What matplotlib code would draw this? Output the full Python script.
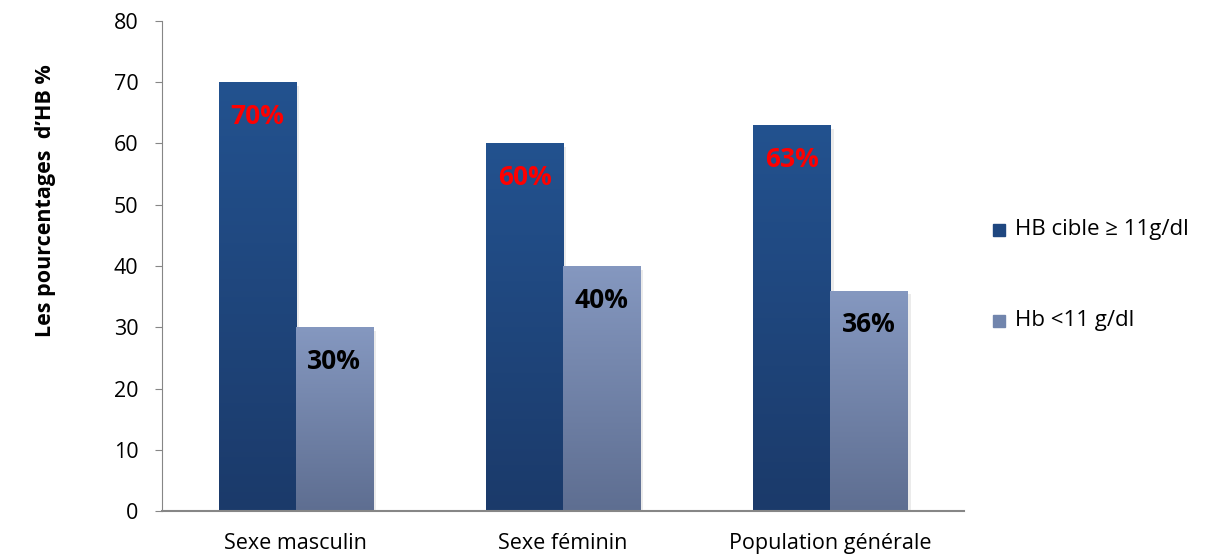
import numpy as np
import matplotlib
matplotlib.use('Agg')
import matplotlib.pyplot as plt
from matplotlib.colors import LinearSegmentedColormap
from matplotlib.patches import Rectangle

plt.rcParams['font.family'] = ['Open Sans', 'DejaVu Sans']

categories = ['Sexe masculin', 'Sexe féminin', 'Population générale']
hb_cible = [70, 60, 63]
hb_bas = [30, 40, 36]
labels_cible = ['70%', '60%', '63%']
labels_bas = ['30%', '40%', '36%']
series_names = ['HB cible \u2265 11g/dl', 'Hb <11 g/dl']

dark_cmap = LinearSegmentedColormap.from_list('dark', ['#1b3a6a', '#23528f'])
light_cmap = LinearSegmentedColormap.from_list('light', ['#5e6e91', '#8598c0'])

fig = plt.figure(figsize=(12.08, 5.58), dpi=100)
ax = fig.add_axes([0.1341, 0.0842, 0.664, 0.8782])

x = np.arange(len(categories))
w = 0.288
grad = np.linspace(0, 1, 256).reshape(-1, 1)


def gradient_bars(xpos, values, cmap, align):
    bars = ax.bar(xpos, values, width=w, align=align, color='none', zorder=2)
    for b in bars:
        x0, y0 = b.get_x(), b.get_y()
        bw, bh = b.get_width(), b.get_height()
        # faint shadow to the right
        ax.add_patch(Rectangle((x0 + 0.012, y0), bw, bh - 0.6, color='#000000',
                               alpha=0.08, lw=0, zorder=1.5))
        im = ax.imshow(grad, cmap=cmap, origin='lower', aspect='auto',
                       extent=[x0, x0 + bw, y0, y0 + bh], zorder=2)
        im.set_clip_path(b)
    return bars


bars_c = gradient_bars(x - w, hb_cible, dark_cmap, 'edge')
bars_b = gradient_bars(x, hb_bas, light_cmap, 'edge')

for b, lab in zip(bars_c, labels_cible):
    ax.text(b.get_x() + b.get_width() / 2, b.get_height() - 5.6, lab,
            ha='center', va='center', color='#ff0000', fontsize=19,
            fontweight='bold', zorder=3)
for b, lab in zip(bars_b, labels_bas):
    ax.text(b.get_x() + b.get_width() / 2, b.get_height() - 5.6, lab,
            ha='center', va='center', color='black', fontsize=19,
            fontweight='bold', zorder=3)

ax.set_xlim(-0.5, len(categories) - 0.5)
ax.set_ylim(0, 80)
ax.set_yticks(np.arange(0, 81, 10))
ax.set_xticks(x)
ax.set_xticklabels(categories, fontsize=15.5)
ax.tick_params(axis='y', labelsize=15.5, length=5, color='#868686', pad=12)
ax.tick_params(axis='x', length=0, pad=16)
for s in ['top', 'right']:
    ax.spines[s].set_visible(False)
ax.spines['left'].set_color('#868686')
ax.spines['bottom'].set_color('#868686')
ax.spines['bottom'].set_linewidth(1.5)

fig.text(0.038, 0.64, 'Les pourcentages  d\u2019HB %', rotation=90, ha='center',
         va='center', fontsize=15.5, fontweight='bold')

# legend
leg_colors = ['#1f4780', '#7185ad']
leg_y = [0.588, 0.425]
for name, c, yy in zip(series_names, leg_colors, leg_y):
    fig.patches.append(Rectangle((0.822, yy - 0.011), 0.0099, 0.0215,
                                 transform=fig.transFigure, color=c))
    fig.text(0.840, yy, name, fontsize=16, va='center', ha='left')

fig.savefig('out.png', dpi=100)
